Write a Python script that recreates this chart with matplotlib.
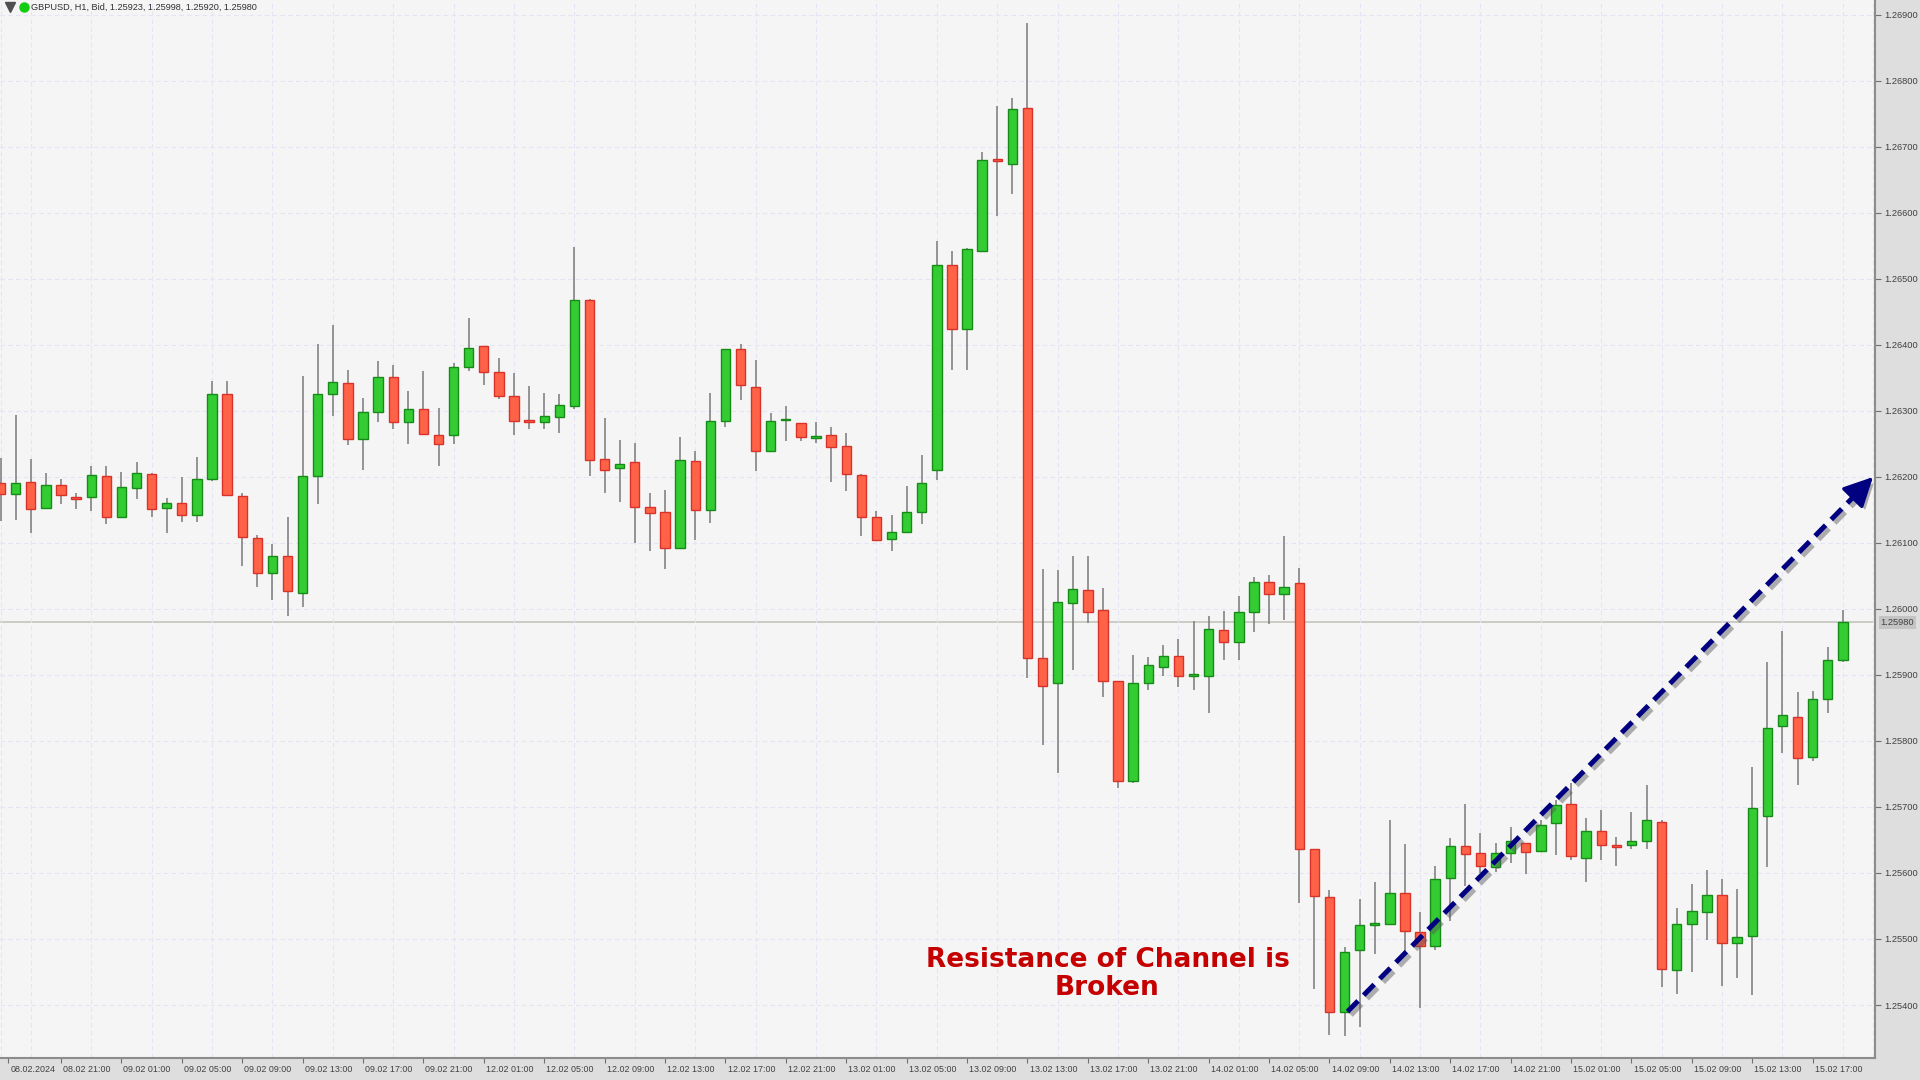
import numpy as np
import matplotlib
matplotlib.use("Agg")
import matplotlib.pyplot as plt
from matplotlib import patheffects as pe
from matplotlib.lines import Line2D
from matplotlib.transforms import ScaledTranslation
from matplotlib import font_manager

# GBPUSD H1 candles, 08.02 17:00 .. 15.02 19:00
opens = [
    1.26191, 1.26174, 1.26193, 1.26153, 1.26188, 1.26169, 1.26170, 1.26201, 1.26139, 1.26183,
    1.26204, 1.26153, 1.26160, 1.26143, 1.26197, 1.26325, 1.26171, 1.26107, 1.26054, 1.26080,
    1.26024, 1.26201, 1.26325, 1.26343, 1.26257, 1.26298, 1.26351, 1.26283, 1.26303, 1.26263,
    1.26263, 1.26366, 1.26399, 1.26359, 1.26322, 1.26287, 1.26283, 1.26291, 1.26308, 1.26468,
    1.26228, 1.26214, 1.26222, 1.26155, 1.26147, 1.26092, 1.26224, 1.26150, 1.26285, 1.26394,
    1.26337, 1.26239, 1.26286, 1.26282, 1.26259, 1.26263, 1.26247, 1.26203, 1.26139, 1.26106,
    1.26116, 1.26147, 1.26211, 1.26521, 1.26424, 1.26543, 1.26680, 1.26674, 1.26759, 1.25926,
    1.25888, 1.26009, 1.26029, 1.25998, 1.25891, 1.25740, 1.25888, 1.25912, 1.25929, 1.25899,
    1.25899, 1.25968, 1.25950, 1.25995, 1.26041, 1.26023, 1.26039, 1.25636, 1.25563, 1.25390,
    1.25483, 1.25521, 1.25522, 1.25570, 1.25511, 1.25490, 1.25593, 1.25641, 1.25630, 1.25609,
    1.25630, 1.25645, 1.25633, 1.25675, 1.25705, 1.25623, 1.25664, 1.25642, 1.25642, 1.25649,
    1.25677, 1.25453, 1.25522, 1.25541, 1.25567, 1.25494, 1.25504, 1.25687, 1.25823, 1.25837,
    1.25775, 1.25863, 1.25923]
highs = [
    1.26229, 1.26294, 1.26227, 1.26206, 1.26197, 1.26176, 1.26216, 1.26216, 1.26208, 1.26222,
    1.26206, 1.26168, 1.26200, 1.26231, 1.26345, 1.26346, 1.26176, 1.26112, 1.26098, 1.26139,
    1.26353, 1.26401, 1.26431, 1.26362, 1.26320, 1.26375, 1.26370, 1.26331, 1.26360, 1.26304,
    1.26373, 1.26441, 1.26399, 1.26380, 1.26357, 1.26338, 1.26327, 1.26326, 1.26548, 1.26469,
    1.26289, 1.26256, 1.26252, 1.26175, 1.26181, 1.26261, 1.26240, 1.26327, 1.26394, 1.26402,
    1.26378, 1.26297, 1.26308, 1.26282, 1.26284, 1.26275, 1.26267, 1.26205, 1.26149, 1.26143,
    1.26187, 1.26233, 1.26557, 1.26542, 1.26547, 1.26692, 1.26762, 1.26774, 1.26888, 1.26061,
    1.26059, 1.26081, 1.26081, 1.26032, 1.25891, 1.25931, 1.25928, 1.25946, 1.25954, 1.25982,
    1.25990, 1.25997, 1.26019, 1.26048, 1.26051, 1.26110, 1.26062, 1.25636, 1.25574, 1.25488,
    1.25561, 1.25587, 1.25681, 1.25644, 1.25541, 1.25610, 1.25653, 1.25704, 1.25660, 1.25645,
    1.25670, 1.25645, 1.25681, 1.25711, 1.25736, 1.25683, 1.25696, 1.25654, 1.25693, 1.25733,
    1.25681, 1.25547, 1.25584, 1.25605, 1.25591, 1.25576, 1.25761, 1.25920, 1.25967, 1.25874,
    1.25876, 1.25942, 1.25998]
lows = [
    1.26134, 1.26135, 1.26115, 1.26151, 1.26159, 1.26152, 1.26149, 1.26129, 1.26138, 1.26167,
    1.26140, 1.26115, 1.26132, 1.26132, 1.26194, 1.26172, 1.26065, 1.26034, 1.26013, 1.25989,
    1.26003, 1.26159, 1.26293, 1.26249, 1.26211, 1.26283, 1.26272, 1.26250, 1.26265, 1.26216,
    1.26250, 1.26361, 1.26340, 1.26318, 1.26264, 1.26272, 1.26272, 1.26267, 1.26303, 1.26202,
    1.26176, 1.26162, 1.26100, 1.26088, 1.26061, 1.26091, 1.26104, 1.26131, 1.26276, 1.26317,
    1.26209, 1.26239, 1.26254, 1.26254, 1.26251, 1.26193, 1.26179, 1.26110, 1.26105, 1.26088,
    1.26116, 1.26129, 1.26196, 1.26362, 1.26362, 1.26543, 1.26595, 1.26629, 1.25896, 1.25794,
    1.25752, 1.25908, 1.25979, 1.25867, 1.25729, 1.25737, 1.25877, 1.25899, 1.25882, 1.25878,
    1.25842, 1.25923, 1.25923, 1.25965, 1.25977, 1.25983, 1.25554, 1.25425, 1.25355, 1.25353,
    1.25367, 1.25478, 1.25522, 1.25478, 1.25395, 1.25483, 1.25528, 1.25580, 1.25600, 1.25602,
    1.25615, 1.25598, 1.25633, 1.25628, 1.25620, 1.25587, 1.25620, 1.25611, 1.25636, 1.25636,
    1.25428, 1.25417, 1.25450, 1.25499, 1.25429, 1.25441, 1.25415, 1.25609, 1.25782, 1.25733,
    1.25770, 1.25842, 1.25920]
closes = [
    1.26174, 1.26191, 1.26151, 1.26188, 1.26172, 1.26167, 1.26203, 1.26140, 1.26185, 1.26206,
    1.26151, 1.26160, 1.26143, 1.26197, 1.26325, 1.26172, 1.26109, 1.26054, 1.26081, 1.26027,
    1.26201, 1.26325, 1.26344, 1.26257, 1.26298, 1.26351, 1.26283, 1.26303, 1.26265, 1.26250,
    1.26367, 1.26395, 1.26359, 1.26322, 1.26285, 1.26283, 1.26292, 1.26309, 1.26468, 1.26226,
    1.26211, 1.26220, 1.26155, 1.26146, 1.26092, 1.26226, 1.26150, 1.26285, 1.26394, 1.26340,
    1.26239, 1.26285, 1.26287, 1.26261, 1.26261, 1.26246, 1.26205, 1.26139, 1.26105, 1.26117,
    1.26147, 1.26191, 1.26521, 1.26424, 1.26545, 1.26680, 1.26679, 1.26757, 1.25926, 1.25883,
    1.26011, 1.26031, 1.25996, 1.25891, 1.25740, 1.25888, 1.25915, 1.25929, 1.25899, 1.25900,
    1.25969, 1.25950, 1.25995, 1.26041, 1.26023, 1.26034, 1.25636, 1.25565, 1.25390, 1.25481,
    1.25521, 1.25523, 1.25570, 1.25512, 1.25489, 1.25591, 1.25641, 1.25629, 1.25610, 1.25630,
    1.25648, 1.25632, 1.25673, 1.25703, 1.25625, 1.25664, 1.25642, 1.25640, 1.25649, 1.25680,
    1.25454, 1.25522, 1.25543, 1.25566, 1.25494, 1.25503, 1.25698, 1.25819, 1.25839, 1.25774,
    1.25863, 1.25922, 1.25980]

xtick_pos = [0.5] + list(range(4, 121, 4))
xtick_labels = ['08.02.2024', '08.02 21:00', '09.02 01:00', '09.02 05:00', '09.02 09:00',
                '09.02 13:00', '09.02 17:00', '09.02 21:00', '12.02 01:00', '12.02 05:00',
                '12.02 09:00', '12.02 13:00', '12.02 17:00', '12.02 21:00', '13.02 01:00',
                '13.02 05:00', '13.02 09:00', '13.02 13:00', '13.02 17:00', '13.02 21:00',
                '14.02 01:00', '14.02 05:00', '14.02 09:00', '14.02 13:00', '14.02 17:00',
                '14.02 21:00', '15.02 01:00', '15.02 05:00', '15.02 09:00', '15.02 13:00',
                '15.02 17:00']
ytick_vals = [1.254, 1.255, 1.256, 1.257, 1.258, 1.259, 1.260, 1.261,
              1.262, 1.263, 1.264, 1.265, 1.266, 1.267, 1.268, 1.269]
last_price = 1.25980
header = "GBPUSD, H1, Bid, 1.25923, 1.25998, 1.25920, 1.25980"
note = "Resistance of Channel is\nBroken"
note_pos = (73.3, 1.25447)
arrow_start = (89.2, 1.25390)
arrow_end = (124.0, 1.26200)

# narrow font like the terminal if there is one
names = {f.name for f in font_manager.fontManager.ttflist}
axis_font = 'Liberation Sans Narrow' if 'Liberation Sans Narrow' in names else 'Liberation Sans'
small = 7.5 if axis_font == 'Liberation Sans Narrow' else 6.4

o = np.array(opens)
h = np.array(highs)
l = np.array(lows)
c = np.array(closes)
x = np.arange(len(o))
up = c >= o
body_low = np.minimum(o, c)
body_h = np.maximum(np.abs(c - o), 0.000025)

fig = plt.figure(figsize=(19.2, 10.8), dpi=100, facecolor='#dedede')
ax = fig.add_axes([0, 22 / 1080, 1875 / 1920, 1058 / 1080])
ax.set_facecolor('#f5f5f5')

ax.vlines(x, l, h, color='#7a7a7a', lw=1.1, zorder=2)
ax.bar(x[up], body_h[up], bottom=body_low[up], width=0.62,
       color='#33cc33', edgecolor='#178a17', linewidth=1.0, zorder=3)
ax.bar(x[~up], body_h[~up], bottom=body_low[~up], width=0.62,
       color='#ff6347', edgecolor='#d8322a', linewidth=1.0, zorder=3)

ax.axhline(last_price, color='#c8c8c0', lw=1.3, zorder=1)

ax.set_xlim(-0.04, 124.13)
ax.set_ylim(1.253197, 1.269227)

# grid
ax.set_xticks(list(range(0, 125, 2)), minor=True)
ax.set_xticks(xtick_pos)
ax.set_xticklabels(xtick_labels, fontsize=small, color='#404040', family=axis_font)
ax.grid(which='minor', axis='x', color='#e4e4f4', linestyle=(0, (4, 3)), lw=0.8, zorder=0)
ax.grid(which='major', axis='y', color='#e4e4f4', linestyle=(0, (4, 3)), lw=0.8, zorder=0)
ax.tick_params(axis='x', which='major', direction='out', length=3.5, color='#707070', pad=1.5)
ax.tick_params(axis='x', which='minor', length=0)
off = ScaledTranslation(1.5 / 72, 0, fig.dpi_scale_trans)
for lbl in ax.get_xticklabels():
    lbl.set_horizontalalignment('left')
    lbl.set_transform(lbl.get_transform() + off)

ax.yaxis.tick_right()
ax.set_yticks(ytick_vals)
ax.set_yticklabels([f"{v:.5f}" for v in ytick_vals], fontsize=small + 0.3, color='#404040',
                   family=axis_font)
ax.tick_params(axis='y', direction='out', length=4, color='#707070', pad=3)

for side in ['left', 'top']:
    ax.spines[side].set_visible(False)
for side in ['right', 'bottom']:
    ax.spines[side].set_color('#8c8c8c')
    ax.spines[side].set_linewidth(1.5)

# current price tag on the right axis
ax.annotate(f"{last_price:.5f}", xy=(1, last_price), xycoords=('axes fraction', 'data'),
            xytext=(4, 0), textcoords='offset points', va='center', ha='left',
            fontsize=small + 0.3, color='#404040', family=axis_font,
            bbox=dict(boxstyle='square,pad=0.2', fc='#c4c4c4', ec='none'))

# header
fig.text(31 / 1920, 1 - 7 / 1080, header, fontsize=small + 0.2, color='#303030',
         va='center', ha='left', family=axis_font)
fig.add_artist(Line2D([10 / 1920], [1 - 7 / 1080], marker='v', color='#505050',
                      markersize=7, transform=fig.transFigure))
fig.add_artist(Line2D([24 / 1920], [1 - 7 / 1080], marker='o', color='#11cc11',
                      markersize=6.5, transform=fig.transFigure))

# annotation text
ax.text(note_pos[0], note_pos[1], note, color='#c40000', fontsize=19, fontweight='bold',
        ha='center', va='center', multialignment='center', linespacing=1.12,
        family='DejaVu Sans', zorder=5)

# dashed trend arrow with shadow
shadow = [pe.SimpleLineShadow(offset=(2.5, -2.5), shadow_color='#555555', alpha=0.45), pe.Normal()]
dx = arrow_end[0] - arrow_start[0]
dy = arrow_end[1] - arrow_start[1]
ax.plot([arrow_start[0], arrow_start[0] + dx * 0.968], [arrow_start[1], arrow_start[1] + dy * 0.968],
        color='#000080', lw=3.6, dashes=(3.0, 1.6), solid_capstyle='butt',
        dash_capstyle='butt', path_effects=shadow, zorder=6)
ax.annotate('', xy=arrow_end, xytext=(arrow_start[0] + dx * 0.96, arrow_start[1] + dy * 0.96),
            arrowprops=dict(arrowstyle='-|>,head_length=0.9,head_width=0.45', color='#000080',
                            lw=2.5, mutation_scale=20, shrinkA=0, shrinkB=0,
                            path_effects=[pe.withSimplePatchShadow(offset=(2.5, -2.5),
                                                                   shadow_rgbFace='#555555', alpha=0.45)]),
            zorder=6)

fig.savefig('out.png', dpi=100, facecolor=fig.get_facecolor())
